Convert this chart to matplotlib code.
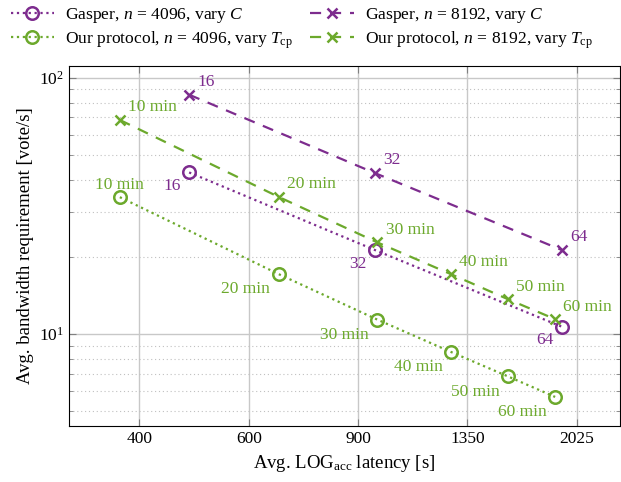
import matplotlib.pyplot as plt
from matplotlib.ticker import FixedLocator, NullLocator, NullFormatter

plt.rcParams['font.family'] = ['Liberation Serif', 'DejaVu Serif']
plt.rcParams['mathtext.fontset'] = 'custom'
plt.rcParams['mathtext.rm'] = 'Liberation Serif'
plt.rcParams['mathtext.it'] = 'Liberation Serif:italic'
plt.rcParams['mathtext.bf'] = 'Liberation Serif:bold'
plt.rcParams['font.size'] = 12

PURPLE = '#7D2C8E'
GREEN = '#6CA92C'

# Gasper, vary C
gasper_c = ['16', '32', '64']
gasper_lat = [481, 957, 1914]
gasper_bw_4096 = [42.7, 21.3, 10.7]
gasper_bw_8192 = [85.8, 42.5, 21.3]

# our protocol, vary T_cp
ours_t = ['10 min', '20 min', '30 min', '40 min', '50 min', '60 min']
ours_lat = [372, 670, 966, 1269, 1567, 1869]
ours_bw_4096 = [34.2, 17.15, 11.4, 8.53, 6.85, 5.69]
ours_bw_8192 = [68.4, 34.3, 22.8, 17.15, 13.7, 11.44]

xticks = [400, 600, 900, 1350, 2025]

fig = plt.figure(figsize=(6.21, 4.82), dpi=100)
ax = fig.add_axes([0.111, 0.116, 0.887, 0.747])

l1, = ax.plot(gasper_lat, gasper_bw_4096, color=PURPLE, linestyle=':', linewidth=1.6,
              marker='o', markersize=9, markerfacecolor='none', markeredgewidth=1.8,
              label=r'Gasper, $n$ = 4096, vary $C$')
l2, = ax.plot(gasper_lat, gasper_bw_8192, color=PURPLE, linestyle=(0, (5, 4)), linewidth=1.6,
              marker='x', markersize=6.5, markeredgewidth=1.8,
              label=r'Gasper, $n$ = 8192, vary $C$')
l3, = ax.plot(ours_lat, ours_bw_4096, color=GREEN, linestyle=':', linewidth=1.6,
              marker='o', markersize=9, markerfacecolor='none', markeredgewidth=1.8,
              label=r'Our protocol, $n$ = 4096, vary $T_{\mathrm{cp}}$')
l4, = ax.plot(ours_lat, ours_bw_8192, color=GREEN, linestyle=(0, (5, 4)), linewidth=1.6,
              marker='x', markersize=6.5, markeredgewidth=1.8,
              label=r'Our protocol, $n$ = 8192, vary $T_{\mathrm{cp}}$')

# point labels (offsets in points)
for lab, x, y in zip(gasper_c, gasper_lat, gasper_bw_8192):
    ax.annotate(lab, (x, y), xytext=(6, 9), textcoords='offset points',
                color=PURPLE, ha='left', va='center', fontsize=12.5)
for lab, x, y in zip(gasper_c, gasper_lat, gasper_bw_4096):
    ax.annotate(lab, (x, y), xytext=(-6, -10), textcoords='offset points',
                color=PURPLE, ha='right', va='center', fontsize=12.5)
for lab, x, y in zip(ours_t, ours_lat, ours_bw_8192):
    ax.annotate(lab, (x, y), xytext=(6, 9), textcoords='offset points',
                color=GREEN, ha='left', va='center', fontsize=12.5)
for i, (lab, x, y) in enumerate(zip(ours_t, ours_lat, ours_bw_4096)):
    if i == 0:
        ax.annotate(lab, (x, y), xytext=(0, 9), textcoords='offset points',
                    color=GREEN, ha='center', va='center', fontsize=12.5)
    else:
        ax.annotate(lab, (x, y), xytext=(-6, -11), textcoords='offset points',
                    color=GREEN, ha='right', va='center', fontsize=12.5)

ax.set_xscale('log')
ax.set_yscale('log')
ax.set_xlim(308, 2375)
ax.set_ylim(4.38, 111)
ax.xaxis.set_major_locator(FixedLocator(xticks))
ax.xaxis.set_minor_locator(NullLocator())
ax.xaxis.set_minor_formatter(NullFormatter())
ax.set_xticklabels([str(t) for t in xticks])

ax.grid(True, which='major', color='#c8c8c8', linestyle='-', linewidth=1.0)
ax.grid(True, which='minor', axis='y', color='#c0c0c0', linestyle=(0, (1, 2.5)), linewidth=0.8)
ax.set_axisbelow(True)
ax.tick_params(which='both', direction='in', top=True, right=True, color='#808080')
ax.tick_params(which='major', length=5)
ax.tick_params(which='minor', length=3)
ax.tick_params(axis='both', which='major', labelsize=12.5, colors='black')
ax.tick_params(which='both', color='#808080')

ax.set_xlabel(r'Avg. LOG$_{\mathrm{acc}}$ latency [s]', fontsize=13.5)
ax.set_ylabel('Avg. bandwidth requirement [vote/s]', fontsize=13.5)

fig.legend([l1, l3, l2, l4], [l.get_label() for l in (l1, l3, l2, l4)],
           loc='upper left', bbox_to_anchor=(0.0, 1.01), ncol=2, frameon=False,
           fontsize=12.6, handlelength=2.5, columnspacing=1.0, handletextpad=0.6,
           labelspacing=0.25, borderaxespad=0.2)

fig.savefig('out.png', dpi=100)
